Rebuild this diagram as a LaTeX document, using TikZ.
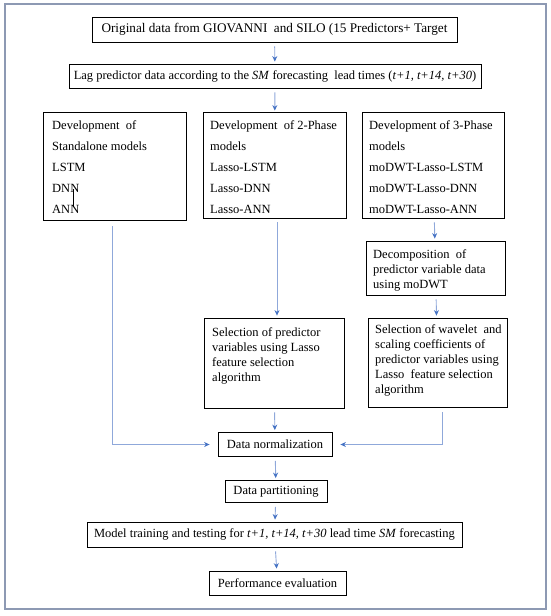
\documentclass[tikz,border=0pt]{standalone}
\usepackage{fontspec}
\setmainfont{Liberation Serif}
\usetikzlibrary{arrows.meta}
\definecolor{framec}{HTML}{8D99B3}
\definecolor{linec}{HTML}{8FA8DA}
\definecolor{tipc}{HTML}{4472C4}
\tikzset{
  box/.style={draw=black, line width=0.8pt, inner sep=0pt, fill=white},
  txt/.style={inner sep=0pt, anchor=north west, align=left},
  wide/.style={font=\fontsize{12.5}{21}\selectfont},
  tight/.style={font=\fontsize{12.5}{15}\selectfont},
  one/.style={font=\fontsize{12.5}{15}\selectfont},
  big/.style={font=\fontsize{13.2}{15}\selectfont},
  conn/.style={draw=linec, line width=0.9pt, -{Stealth[length=5.5pt,width=5pt,color=tipc]}},
}
\begin{document}
\begin{tikzpicture}[x=1pt,y=-1pt]
\useasboundingbox (0,0) rectangle (550,616);
\draw[framec, line width=1.5pt] (5,4) rectangle (546,609);

% top boxes
\node[box, big, minimum width=365pt, minimum height=25pt] (b1) at (274.5,29.5) {Original data from GIOVANNI\ \ and SILO (15 Predictors+ Target};
\node[box, one, minimum width=412pt, minimum height=24pt] (b2) at (275,76) {Lag predictor data according to the \textit{SM} forecasting\ \ lead times (\textit{t+1, t+14, t+30})};

% three model boxes
\node[box, minimum width=143pt, minimum height=108pt] (left) at (114.5,166) {};
\node[txt, wide] (lefttxt) at (52,120) {Development\ \ of\\Standalone models\\LSTM\\DNN\\ANN};
\draw[line width=0.6pt] (73,189) -- (73,207);

\node[box, minimum width=143pt, minimum height=106pt] (mid) at (274.5,165) {};
\node[txt, wide] (midtxt) at (210,120) {Development\ \ of 2-Phase\\models\\Lasso-LSTM\\Lasso-DNN\\Lasso-ANN};

\node[box, minimum width=142pt, minimum height=106pt] (right) at (433,165) {};
\node[txt, wide] (righttxt) at (369,120) {Development of 3-Phase\\models\\moDWT-Lasso-LSTM\\moDWT-Lasso-DNN\\moDWT-Lasso-ANN};

% decomposition
\node[box, minimum width=139pt, minimum height=54pt] (dec) at (435.5,268) {};
\node[txt, tight] (dectxt) at (373,249.5) {Decomposition\ \ of\\predictor variable data\\using moDWT};

% selection boxes
\node[box, minimum width=140pt, minimum height=90pt] (msel) at (274,363) {};
\node[txt, tight] (mseltxt) at (212,327.5) {Selection of predictor\\variables using Lasso\\feature selection\\algorithm};

\node[box, minimum width=139pt, minimum height=89pt] (rsel) at (437.5,362.5) {};
\node[txt, tight] (rseltxt) at (375,324.5) {Selection of wavelet\ \ and\\scaling coefficients of\\predictor variables using\\Lasso\ \ feature selection\\algorithm};

% bottom chain
\node[box, one, minimum width=114pt, minimum height=24pt] (norm) at (275,444.5) {Data normalization};
\node[box, one, minimum width=102pt, minimum height=22pt] (part) at (276,491.5) {Data partitioning};
\node[box, one, minimum width=375pt, minimum height=25pt] (model) at (274.5,534.5) {Model training and testing for \textit{t+1, t+14, t+30} lead time \textit{SM} forecasting};
\node[box, one, minimum width=137pt, minimum height=24pt] (perf) at (277.5,583) {Performance evaluation};

% connectors
\draw[conn, shorten <=4pt, shorten >=2pt] (b1) -- (b2);
\draw[conn, shorten <=4pt, shorten >=1pt] (b2) -- (mid);
\draw[conn, shorten <=4pt, shorten >=2pt] ([xshift=2.5pt]mid.south) -- ([xshift=2.5pt]mid.south |- msel.north);
\draw[conn, shorten <=4pt, shorten >=2pt] (right) -- (dec);
\draw[conn, shorten <=4pt, shorten >=2pt] (dec) -- (rsel);
\draw[conn, shorten <=4pt, shorten >=2pt] (msel) -- (norm);
\draw[conn, shorten <=6pt, shorten >=8pt] ([xshift=-2.5pt]left.south) |- (norm.west);
\draw[conn, shorten <=5pt, shorten >=8pt] ([xshift=4.5pt]rsel.south) |- (norm.east);
\draw[conn, shorten <=4pt, shorten >=2pt] (norm) -- (part);
\draw[conn, shorten <=4pt, shorten >=2pt] (part) -- (model);
\draw[conn, shorten <=4pt, shorten >=2pt] (model) -- (perf);
\end{tikzpicture}
\end{document}
